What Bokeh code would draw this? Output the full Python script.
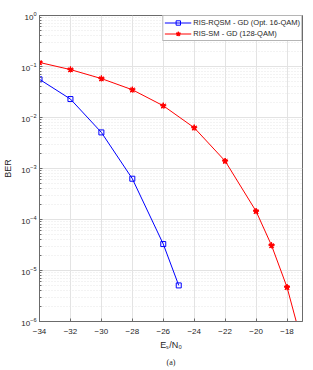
from bokeh.plotting import figure
from bokeh.models import Range1d, FixedTicker, Title, Legend, LegendItem
from bokeh.embed import file_html
from bokeh.resources import INLINE

# data
snr_rqsm = [-34, -32, -30, -28, -26, -25]
ber_rqsm = [0.056, 0.023, 0.0051, 6.3e-4, 3.3e-5, 5.1e-6]
snr_sm = [-34, -32, -30, -28, -26, -24, -22, -20, -19, -18, -17]
ber_sm = [0.12, 0.087, 0.058, 0.035, 0.017, 0.0063, 1.4e-3, 1.45e-4, 3.1e-5, 4.7e-6, 3.5e-7]
x_ticks = [-34, -32, -30, -28, -26, -24, -22, -20, -18]
label_rqsm = "RIS-RQSM - GD (Opt. 16-QAM)"
label_sm = "RIS-SM - GD (128-QAM)"

FONT = "Liberation Sans"
TXT = "#262626"
AX = "#6b6b6b"

p = figure(width=305, height=370, y_axis_type="log", output_backend="svg",
           toolbar_location=None, x_range=Range1d(-34, -17), y_range=Range1d(1e-6, 1))
p.min_border_left = 39
p.min_border_top = 15
p.min_border_right = 3
p.min_border_bottom = 45
p.background_fill_color = "white"
p.border_fill_color = "white"
p.outline_line_color = AX
p.outline_line_width = 1

p.xaxis.ticker = FixedTicker(ticks=x_ticks)
for ax in [p.xaxis[0], p.yaxis[0]]:
    ax.major_label_text_font = FONT
    ax.major_label_text_font_size = "8px"
    ax.major_label_text_color = TXT
    ax.axis_label_text_font = FONT
    ax.axis_label_text_font_size = "9px"
    ax.axis_label_text_font_style = "normal"
    ax.axis_label_text_color = TXT
    ax.axis_line_color = AX
    ax.major_tick_line_color = AX
    ax.minor_tick_line_color = AX
    ax.major_tick_in = 3
    ax.major_tick_out = 0
    ax.minor_tick_in = 2
    ax.minor_tick_out = 0
    ax.axis_label_standoff = 3
    ax.major_label_standoff = 7
p.xaxis.minor_tick_line_color = None
p.xaxis.axis_label = "Eₛ/N₀"
p.yaxis.axis_label = "BER"
p.yaxis.axis_label_standoff = 5
p.yaxis.major_label_standoff = 3

p.xgrid.grid_line_color = "#e3e3e3"
p.ygrid.grid_line_color = "#e3e3e3"
p.ygrid.minor_grid_line_color = "#e6e6e6"
p.ygrid.minor_grid_line_dash = "1 2"

r_sm_l = p.line(snr_sm, ber_sm, line_color="red", line_width=1.0)
r_sm_m = p.scatter(snr_sm, ber_sm, marker="star", size=6, fill_color="red", line_color="red")
r_sm_a = p.scatter(snr_sm, ber_sm, marker="asterisk", size=6, line_color="red", line_width=1.0)
r_rq_l = p.line(snr_rqsm, ber_rqsm, line_color="blue", line_width=1.0)
r_rq_m = p.scatter(snr_rqsm, ber_rqsm, marker="square", size=5, fill_color=None,
                   line_color="blue", line_width=1.0)

legend = Legend(items=[LegendItem(label=label_rqsm, renderers=[r_rq_l, r_rq_m]),
                       LegendItem(label=label_sm, renderers=[r_sm_l, r_sm_m, r_sm_a])],
                location="top_right")
legend.label_text_font = FONT
legend.label_text_font_size = "7.5px"
legend.label_text_color = TXT
legend.label_height = 11
legend.glyph_height = 11
legend.glyph_width = 27
legend.spacing = 0
legend.padding = 1
legend.margin = 0
legend.label_standoff = 2
legend.border_line_color = AX
legend.border_line_width = 1
legend.background_fill_alpha = 1
p.add_layout(legend)

cap = Title(text="(a)", align="center", text_font="Liberation Serif", text_font_size="8px",
            text_font_style="normal", text_color=TXT, offset=0, standoff=7)
p.add_layout(cap, "below")

open("out.html", "w").write(file_html(p, INLINE))
